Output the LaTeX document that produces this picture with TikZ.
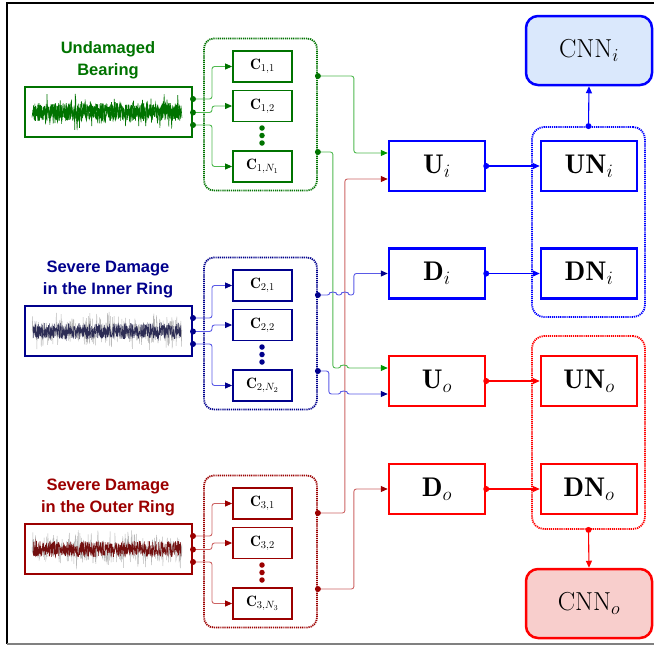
\RequirePackage{fix-cm}
\documentclass[tikz,border=0pt]{standalone}
\usepackage{fontspec}
\newfontfamily\titlefont{Liberation Sans}
\usetikzlibrary{arrows.meta,calc}
\definecolor{gD}{RGB}{0,115,0}
\definecolor{gL}{RGB}{80,185,80}
\definecolor{gA}{RGB}{0,150,0}
\definecolor{bD}{RGB}{0,0,140}
\definecolor{bL}{RGB}{90,90,230}
\definecolor{rD}{RGB}{155,0,0}
\definecolor{rL}{RGB}{205,100,100}
\definecolor{bR}{RGB}{0,0,255}
\definecolor{rR}{RGB}{255,0,0}
\definecolor{fB}{RGB}{218,232,252}
\definecolor{fR}{RGB}{248,206,204}
\definecolor{sigB}{RGB}{45,45,85}
\definecolor{sigR}{RGB}{115,15,15}
\begin{document}
\begin{tikzpicture}[x=1pt,y=-1pt,
  sigbox/.style={draw, line width=2pt, minimum width=167pt, minimum height=50pt, inner sep=0pt},
  cbox/.style={draw, line width=1.8pt, fill=white, minimum width=59pt, minimum height=31pt, inner sep=0pt, font=\fontsize{15}{17}\selectfont},
  grpbox/.style={draw, line width=1.8pt, dash pattern=on 1.2pt off 0.9pt, rounded corners=10pt, inner sep=0pt},
  ttl/.style={align=center, font=\titlefont\bfseries\fontsize{16.5}{22}\selectfont},
  ubox/.style={draw, line width=2.5pt, minimum width=96pt, minimum height=50pt, inner sep=0pt, font=\fontsize{27}{30}\selectfont},
  cnnbox/.style={draw, line width=2.5pt, rounded corners=12pt, minimum width=126pt, minimum height=69pt, inner sep=0pt, font=\fontsize{26}{28}\selectfont},
  dotn/.style={circle, fill, inner sep=0pt, minimum size=6pt},
  vdot/.style={circle, fill, inner sep=0pt, minimum size=5.5pt},
  conn/.style={line width=0.9pt, rounded corners=2.5pt},
  rconn/.style={line width=1.1pt}
]
\useasboundingbox (0,0) rectangle (654,646);
% frame
\draw[line width=2pt] (660,3) -- (7,3) -- (7,644);
\draw[line width=1.5pt, gray] (7,644) -- (660,644);

% groups
\foreach \g/\off/\cD/\cL/\txt in {1/0/gD/gL/{Undamaged\\Bearing},2/219/bD/bL/{Severe Damage\\in the Inner Ring},3/437/rD/rL/{Severe Damage\\in the Outer Ring}}{
  \node[ttl, text=\cD] (t\g) at (108,60+\off) {\txt};
  \node[sigbox, draw=\cD] (sig\g) at (108.5,112+\off) {};
  \node[grpbox, draw=\cD, minimum width=113pt, minimum height=152pt] (grp\g) at (260.5,114.5+\off) {};
  \node[cbox, draw=\cD] (c\g-1) at (262.5,66.5+\off) {$\mathbf{C}_{\g,1}$};
  \node[cbox, draw=\cD] (c\g-2) at (262.5,106+\off) {$\mathbf{C}_{\g,2}$};
  \node[cbox, draw=\cD] (c\g-n) at (262.5,166.5+\off) {$\mathbf{C}_{\g,N_{\g}}$};
  \node[vdot, \cD] (v\g-1) at (262,128+\off) {};
  \node[vdot, \cD] (v\g-2) at (262,135.5+\off) {};
  \node[vdot, \cD] (v\g-3) at (262,143+\off) {};
  \node[dotn, \cD] (s\g-a) at ($(sig\g.east)+(0,-13)$) {};
  \node[dotn, \cD] (s\g-b) at ($(sig\g.east)+(0,0.5)$) {};
  \node[dotn, \cD] (s\g-c) at ($(sig\g.east)+(0,13)$) {};
  \draw[conn, \cL, -{Triangle[length=7pt,width=6pt,color=\cD]}] (s\g-a) -- ++(19,0) |- (c\g-1.west);
  \draw[conn, \cL, -{Triangle[length=7pt,width=6pt,color=\cD]}] (s\g-b) -- ++(19,0) |- (c\g-2.west);
  \draw[conn, \cL, -{Triangle[length=7pt,width=6pt,color=\cD]}] (s\g-c) -- ++(19,0) |- (c\g-n.west);
  \node[dotn, \cD] (o\g-a) at ($(grp\g.east)+(0,-38.5)$) {};
  \node[dotn, \cD] (o\g-b) at ($(grp\g.east)+(0,37.5)$) {};
}

% signals
\pgfmathsetseed{11}
\draw[gD, line width=0.6pt] plot[domain=32:182, samples=320, variable=\t] (\t, {112+19*rand*rnd});
\draw[gD, line width=0.6pt] plot[domain=33:181, samples=700, variable=\t] (\t, {112+9*rand});
\draw[gray!55, line width=0.45pt] plot[domain=32:182, samples=520, variable=\t] (\t, {331+21*rand*rnd});
\draw[sigB, line width=0.5pt] plot[domain=33:181, samples=650, variable=\t] (\t, {331+8*rand});
\draw[gray!55, line width=0.45pt] plot[domain=32:182, samples=520, variable=\t] (\t, {549+21*rand*rnd});
\draw[sigR, line width=0.5pt] plot[domain=33:181, samples=650, variable=\t] (\t, {549+8*rand});

% right side
\node[ubox, draw=bR] (Ui) at (437,166) {$\mathbf{U}_{i}$};
\node[ubox, draw=bR] (Di) at (437,273.5) {$\mathbf{D}_{i}$};
\node[ubox, draw=rR] (Uo) at (437,381) {$\mathbf{U}_{o}$};
\node[ubox, draw=rR] (Do) at (437,489) {$\mathbf{D}_{o}$};
\node[grpbox, draw=bR, minimum width=113pt, minimum height=190pt, rounded corners=12pt] (gi) at (588.5,222) {};
\node[grpbox, draw=rR, minimum width=113pt, minimum height=193pt, rounded corners=12pt] (go) at (588.5,432.5) {};
\node[ubox, draw=bR] (UNi) at (589,166) {$\mathbf{UN}_{i}$};
\node[ubox, draw=bR] (DNi) at (589,273.5) {$\mathbf{DN}_{i}$};
\node[ubox, draw=rR] (UNo) at (589,381) {$\mathbf{UN}_{o}$};
\node[ubox, draw=rR] (DNo) at (589,489) {$\mathbf{DN}_{o}$};
\node[cnnbox, draw=bR, fill=fB] (CNNi) at (589,50.5) {$\mathrm{CNN}_{i}$};
\node[cnnbox, draw=rR, fill=fR] (CNNo) at (589,603.5) {$\mathrm{CNN}_{o}$};

\foreach \a/\b/\c in {Ui/UNi/bR, Di/DNi/bR, Uo/UNo/rR, Do/DNo/rR}{
  \node[dotn, \c] (e\a) at (\a.east) {};
  \draw[rconn, \c, -{Triangle[length=7pt,width=6pt]}] (e\a) -- (\b.west);
}
\node[dotn, bR] (gitop) at (gi.north) {};
\draw[rconn, bR, -{Triangle[length=7pt,width=6pt]}] (gitop) -- (CNNi.south);
\node[dotn, rR] (gobot) at (go.south) {};
\draw[rconn, rR, -{Triangle[length=7pt,width=6pt]}] (gobot) -- (CNNo.north);

% entry points
\coordinate (Ui-a) at ($(Ui.west)+(0,-13)$);
\coordinate (Ui-b) at ($(Ui.west)+(0,13)$);
\coordinate (Uo-a) at ($(Uo.west)+(0,-13)$);
\coordinate (Uo-b) at ($(Uo.west)+(0,13)$);

% connectors
\draw[conn, gL, -{Triangle[length=7pt,width=6pt,color=gA]}] (o1-a) -- ++(36,0) |- (Ui-a);
\draw[conn, rL, -{Triangle[length=7pt,width=6pt,color=rD]}] (o3-a) -- ++(27,0) |- (Ui-b);
\draw[conn, gL, -{Triangle[length=7pt,width=6pt,color=gA]}] (o1-b) -- ++(15,0) |- ($(Uo-a)+(-47,0)$) arc[start angle=180,end angle=0,radius=3pt] -- (Uo-a);
\draw[conn, bL, -{Triangle[length=7pt,width=6pt,color=bD]}] (o2-a) -- ++(12,0) arc[start angle=180,end angle=0,radius=3pt] -- ++(6,0) arc[start angle=180,end angle=0,radius=3pt] -- ++(6,0) |- (Di.west);
\draw[conn, bL, -{Triangle[length=7pt,width=6pt,color=bD]}] (o2-b) -- ++(11,0) |- ($(Uo-b)+(-47,0)$) arc[start angle=180,end angle=0,radius=3pt] -- (Uo-b);
\draw[conn, rL, -{Triangle[length=7pt,width=6pt,color=rD]}] (o3-b) -- ++(36,0) |- (Do.west);
\end{tikzpicture}
\end{document}
